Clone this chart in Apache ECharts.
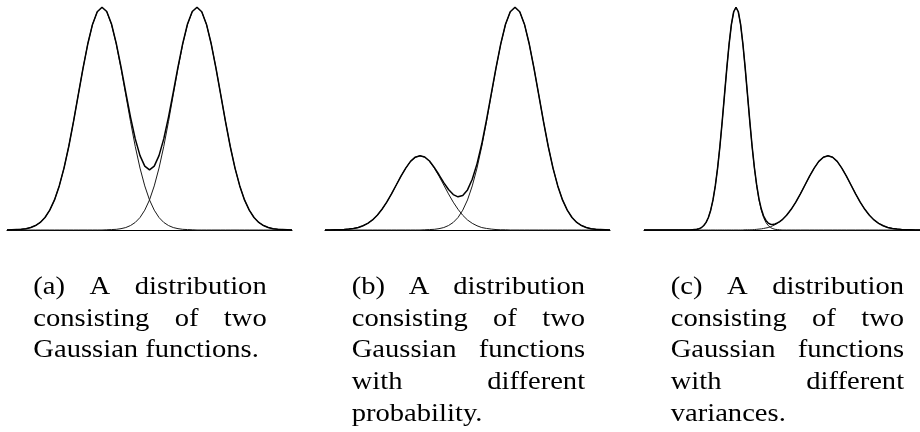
<!DOCTYPE html>
<html>
<head>
<meta charset="utf-8">
<script src="https://cdn.jsdelivr.net/npm/echarts@6/dist/echarts.min.js"></script>
<style>
html,body{margin:0;padding:0;background:#fff;}
#chart{width:920px;height:432px;}
</style>
</head>
<body>
<div id="chart"></div>
<script>
// x sampling for panels (a) and (b)
const xsAB = [-6,-5.8,-5.6,-5.4,-5.2,-5,-4.8,-4.6,-4.4,-4.2,-4,-3.8,-3.6,-3.4,-3.2,-3,-2.8,-2.6,-2.4,-2.2,-2,-1.8,-1.6,-1.4,-1.2,-1,-0.8,-0.6,-0.4,-0.2,0,0.2,0.4,0.6,0.8,1,1.2,1.4,1.6,1.8,2,2.2,2.4,2.6,2.8,3,3.2,3.4,3.6,3.8,4,4.2,4.4,4.6,4.8,5,5.2,5.4,5.6,5.8,6];

// panel (a)
const aLeft = [0.000,0.001,0.002,0.003,0.006,0.011,0.020,0.034,0.056,0.089,0.135,0.198,0.278,0.375,0.487,0.607,0.726,0.835,0.923,0.980,1.000,0.980,0.923,0.835,0.726,0.607,0.487,0.375,0.278,0.198,0.135,0.089,0.056,0.034,0.020,0.011,0.006,0.003,0.002,0.001,0.000,0,0,0,0,0,0,0,0,0,0,0,0,0,0,0,0,0,0,0,0];
const aRight = [0,0,0,0,0,0,0,0,0,0,0,0,0,0,0,0,0,0,0,0,0.000,0.001,0.002,0.003,0.006,0.011,0.020,0.034,0.056,0.089,0.135,0.198,0.278,0.375,0.487,0.607,0.726,0.835,0.923,0.980,1.000,0.980,0.923,0.835,0.726,0.607,0.487,0.375,0.278,0.198,0.135,0.089,0.056,0.034,0.020,0.011,0.006,0.003,0.002,0.001,0.000];
const aSum = [0.000,0.001,0.002,0.003,0.006,0.011,0.020,0.034,0.056,0.089,0.135,0.198,0.278,0.375,0.487,0.607,0.726,0.835,0.923,0.980,1.000,0.981,0.925,0.838,0.732,0.618,0.507,0.409,0.334,0.287,0.270,0.287,0.334,0.409,0.507,0.618,0.732,0.838,0.925,0.981,1.000,0.980,0.923,0.835,0.726,0.607,0.487,0.375,0.278,0.198,0.135,0.089,0.056,0.034,0.020,0.011,0.006,0.003,0.002,0.001,0.000];

// panel (b)
const bLeft = [0.000,0.000,0.001,0.001,0.002,0.004,0.007,0.011,0.019,0.030,0.045,0.066,0.093,0.125,0.162,0.202,0.242,0.278,0.308,0.327,0.333,0.327,0.308,0.278,0.242,0.202,0.162,0.125,0.093,0.066,0.045,0.030,0.019,0.011,0.007,0.004,0.002,0.001,0.001,0.000,0.000,0,0,0,0,0,0,0,0,0,0,0,0,0,0,0,0,0,0,0,0];
const bRight = [0,0,0,0,0,0,0,0,0,0,0,0,0,0,0,0,0,0,0,0,0.000,0.001,0.002,0.003,0.006,0.011,0.020,0.034,0.056,0.089,0.135,0.198,0.278,0.375,0.487,0.607,0.726,0.835,0.923,0.980,1.000,0.980,0.923,0.835,0.726,0.607,0.487,0.375,0.278,0.198,0.135,0.089,0.056,0.034,0.020,0.011,0.006,0.003,0.002,0.001,0.000];
const bSum = [0.000,0.000,0.001,0.001,0.002,0.004,0.007,0.011,0.019,0.030,0.045,0.066,0.093,0.125,0.162,0.202,0.242,0.278,0.308,0.327,0.333,0.328,0.310,0.281,0.248,0.213,0.182,0.159,0.149,0.155,0.180,0.228,0.297,0.386,0.494,0.611,0.728,0.836,0.924,0.980,1.000,0.980,0.923,0.835,0.726,0.607,0.487,0.375,0.278,0.198,0.135,0.089,0.056,0.034,0.020,0.011,0.006,0.003,0.002,0.001,0.000];

// panel (c), finer sampling around the narrow peak
const xsC = [-6,-5,-4.5,-4,-3.9,-3.8,-3.7,-3.6,-3.5,-3.4,-3.3,-3.2,-3.1,-3,-2.9,-2.8,-2.7,-2.6,-2.5,-2.4,-2.3,-2.2,-2.1,-2,-1.9,-1.8,-1.7,-1.6,-1.5,-1.4,-1.3,-1.2,-1.1,-1,-0.9,-0.8,-0.7,-0.6,-0.5,-0.4,-0.3,-0.2,-0.1,0,0.2,0.4,0.6,0.8,1,1.2,1.4,1.6,1.8,2,2.2,2.4,2.6,2.8,3,3.2,3.4,3.6,3.8,4,4.2,4.4,4.6,4.8,5,5.2,5.4,5.6,5.8,6];
const cNarrow = [0,0,0,0.000,0.001,0.002,0.003,0.006,0.011,0.020,0.034,0.056,0.089,0.135,0.198,0.278,0.375,0.487,0.607,0.726,0.835,0.923,0.980,1.000,0.980,0.923,0.835,0.726,0.607,0.487,0.375,0.278,0.198,0.135,0.089,0.056,0.034,0.020,0.011,0.006,0.003,0.002,0.001,0.000,0,0,0,0,0,0,0,0,0,0,0,0,0,0,0,0,0,0,0,0,0,0,0,0,0,0,0,0,0,0];
const cWide = [0,0,0,0,0,0,0,0,0,0,0,0,0,0,0,0,0,0,0,0,0,0,0,0,0,0,0,0.001,0.001,0.001,0.001,0.002,0.003,0.004,0.005,0.007,0.009,0.011,0.015,0.019,0.024,0.030,0.037,0.045,0.066,0.093,0.125,0.162,0.202,0.242,0.278,0.308,0.327,0.333,0.327,0.308,0.278,0.242,0.202,0.162,0.125,0.093,0.066,0.045,0.030,0.019,0.011,0.007,0.004,0.002,0.001,0.001,0.000,0.000];
const cSum = [0,0,0,0.000,0.001,0.002,0.003,0.006,0.011,0.020,0.034,0.056,0.089,0.135,0.198,0.278,0.375,0.487,0.607,0.726,0.835,0.923,0.980,1.000,0.980,0.923,0.835,0.727,0.608,0.488,0.376,0.280,0.201,0.139,0.094,0.063,0.043,0.031,0.026,0.025,0.027,0.032,0.038,0.045,0.066,0.093,0.125,0.162,0.202,0.242,0.278,0.308,0.327,0.333,0.327,0.308,0.278,0.242,0.202,0.162,0.125,0.093,0.066,0.045,0.030,0.019,0.011,0.007,0.004,0.002,0.001,0.001,0.000,0.000];

// captions
const captionA = ['(a) A distribution', 'consisting of two', 'Gaussian functions.'];
const captionB = ['(b) A distribution', 'consisting of two', 'Gaussian functions', 'with different', 'probability.'];
const captionC = ['(c) A distribution', 'consisting of two', 'Gaussian functions', 'with different', 'variances.'];

const panels = [
  {left: 7, xs: xsAB, comps: [aLeft, aRight], sum: aSum, caption: captionA, capLeft: 33.3},
  {left: 325, xs: xsAB, comps: [bLeft, bRight], sum: bSum, caption: captionB, capLeft: 351.7},
  {left: 644, xs: xsC, comps: [cNarrow, cWide], sum: cSum, caption: captionC, capLeft: 670.7}
];

const pair = (xs, ys) => xs.map((x, i) => [x, ys[i]]);

const grids = [], xAxes = [], yAxes = [], series = [];
panels.forEach((p, k) => {
  grids.push({left: p.left, top: 7.3, width: 285, height: 222.7, containLabel: false});
  xAxes.push({type: 'value', gridIndex: k, min: -6, max: 6, show: true,
    axisLine: {show: true, onZero: false, lineStyle: {color: '#000', width: 1.2}},
    axisTick: {show: false}, axisLabel: {show: false}, splitLine: {show: false}});
  yAxes.push({type: 'value', gridIndex: k, min: 0, max: 1, show: false, splitLine: {show: false}});
  p.comps.forEach(c => series.push({type: 'line', xAxisIndex: k, yAxisIndex: k, data: pair(p.xs, c),
    showSymbol: false, symbol: 'none', clip: false, silent: true,
    lineStyle: {color: '#1a1a1a', width: 1}}));
  series.push({type: 'line', xAxisIndex: k, yAxisIndex: k, data: pair(p.xs, p.sum),
    showSymbol: false, symbol: 'none', clip: false, silent: true,
    lineStyle: {color: '#000', width: 1.5}});
});

// caption layout (justified lines, last line left-aligned)
const FONT_SIZE = 26, SX = 1.1, CAP_W = 233.4;
const FONT = FONT_SIZE + 'px "Liberation Serif"';
const baselines = [296, 327.7, 359.3, 391, 422.7];
const ctx = document.createElement('canvas').getContext('2d');
ctx.font = FONT;
const graphic = [];
panels.forEach(p => {
  p.caption.forEach((line, li) => {
    const words = line.split(' ');
    const widths = words.map(w => ctx.measureText(w).width * SX);
    const total = widths.reduce((a, b) => a + b, 0);
    const last = li === p.caption.length - 1;
    const gap = (last || words.length < 2) ? ctx.measureText(' ').width * SX : (CAP_W - total) / (words.length - 1);
    let x = p.capLeft;
    const y = baselines[li] - 0.3375 * FONT_SIZE;
    words.forEach((w, wi) => {
      graphic.push({type: 'text', x: x, y: y, scaleX: SX, silent: true,
        style: {text: w, font: FONT, fill: '#000', textAlign: 'left', textVerticalAlign: 'middle'}});
      x += widths[wi] + gap;
    });
  });
});

const chart = echarts.init(document.getElementById('chart'), null, {renderer: 'canvas'});
chart.setOption({
  animation: false,
  backgroundColor: '#fff',
  grid: grids, xAxis: xAxes, yAxis: yAxes, series: series,
  graphic: graphic
});
</script>
</body>
</html>
